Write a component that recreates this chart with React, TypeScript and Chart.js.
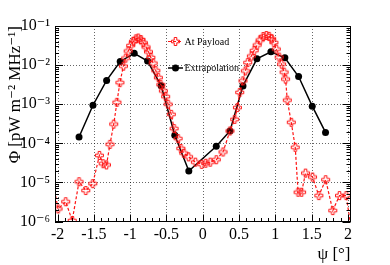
import React, { useEffect, useRef } from 'react';
import { Chart, registerables } from 'chart.js';

Chart.register(...registerables);

const seriesNames = ['At Payload', 'Extrapolation'];

const payloadPsi = [
  -2.089, -1.993, -1.887, -1.798, -1.704, -1.611, -1.515, -1.423, -1.372, -1.326,
  -1.278, -1.226, -1.182, -1.141, -1.093, -1.061, -1.027, -0.992, -0.955, -0.921,
  -0.889, -0.852, -0.818, -0.781, -0.748, -0.715, -0.683, -0.646, -0.612, -0.577,
  -0.543, -0.511, -0.477, -0.433, -0.395, -0.34, -0.302, -0.261, -0.195, -0.102,
  -0.014, 0.041, 0.103, 0.186, 0.279, 0.375, 0.44, 0.477, 0.509, 0.554,
  0.587, 0.619, 0.669, 0.708, 0.749, 0.79, 0.832, 0.876, 0.914, 0.948,
  0.98, 1.013, 1.052, 1.086, 1.12, 1.141, 1.164, 1.219, 1.274, 1.313,
  1.361, 1.416, 1.512, 1.599, 1.693, 1.791, 1.883, 1.975, 2.069,
];
const payloadFlux = [
  1.9e-5, 2.1e-6, 3.2e-6, 1.06e-6, 1.04e-5, 6.2e-6, 9.3e-6, 4.9e-5, 3.0e-5, 2.8e-5,
  9.4e-5, 3.1e-4, 1.12e-3, 3.56e-3, 9.4e-3, 1.51e-2, 2.29e-2, 3.16e-2, 4.05e-2, 4.7e-2,
  4.92e-2, 4.5e-2, 3.73e-2, 2.9e-2, 2.18e-2, 1.57e-2, 1.12e-2, 7.2e-3, 4.78e-3, 3.16e-3,
  2.19e-3, 1.56e-3, 1.0e-3, 5.5e-4, 2.38e-4, 1.32e-4, 7.4e-5, 5.6e-5, 4.5e-5, 3.3e-5,
  2.9e-5, 3.1e-5, 3.3e-5, 3.8e-5, 6.0e-5, 2.07e-4, 4.1e-4, 8.2e-4, 2.0e-3, 3.96e-3,
  7.1e-3, 1.16e-2, 1.7e-2, 2.35e-2, 3.26e-2, 4.38e-2, 5.38e-2, 5.71e-2, 5.44e-2, 4.72e-2,
  3.78e-2, 2.57e-2, 1.6e-2, 1.06e-2, 6.6e-3, 4.38e-3, 1.27e-3, 3.45e-4, 7.9e-5, 5.6e-6,
  5.6e-6, 1.73e-5, 1.37e-5, 4.6e-6, 1.17e-5, 1.9e-6, 4.6e-6, 4.6e-6, 3.3e-7,
];

const extrapPsi = [
  -1.704, -1.512, -1.324, -1.137, -0.944, -0.76, -0.573, -0.385, -0.192,
  0.186, 0.375, 0.554, 0.746, 0.939, 1.131, 1.32, 1.508, 1.691,
];
const extrapFlux = [
  1.45e-4, 9.4e-4, 4.06e-3, 1.24e-2, 2.0e-2, 1.27e-2, 2.95e-3, 1.6e-4, 1.95e-5,
  8.4e-5, 2.07e-4, 2.94e-3, 1.45e-2, 2.19e-2, 1.54e-2, 5.1e-3, 8.9e-4, 1.9e-4,
];

const xTickValues = [-2, -1.5, -1, -0.5, 0, 0.5, 1, 1.5, 2];
const xTickLabels = ['-2', '-1.5', '-1', '-0.5', '0', '0.5', '1', '1.5', '2'];
const yTickValues = [1e-6, 1e-5, 1e-4, 1e-3, 1e-2, 1e-1];
const yTickLabels = ['10\u207B\u2076', '10\u207B\u2075', '10\u207B\u2074', '10\u207B\u00B3', '10\u207B\u00B2', '10\u207B\u00B9'];

const SERIF = "'Liberation Serif', 'Times New Roman', 'DejaVu Serif', serif";
const RED = 'rgb(255,20,20)';

function makeOpenCross(): HTMLCanvasElement {
  const c = document.createElement('canvas');
  c.width = 11;
  c.height = 11;
  const g = c.getContext('2d')!;
  const cx = 5.5, cy = 5.5, h = 4, a = 1.3;
  g.strokeStyle = RED;
  g.lineWidth = 1;
  g.beginPath();
  const pts = [
    [-a, -h], [a, -h], [a, -a], [h, -a], [h, a], [a, a],
    [a, h], [-a, h], [-a, a], [-h, a], [-h, -a], [-a, -a],
  ];
  pts.forEach(([px, py], i) => {
    if (i === 0) g.moveTo(cx + px, cy + py);
    else g.lineTo(cx + px, cy + py);
  });
  g.closePath();
  g.stroke();
  return c;
}

export default function App() {
  const ref = useRef<HTMLCanvasElement>(null);

  useEffect(() => {
    if (!ref.current) return;
    const cross = makeOpenCross();

    const framePlugin = {
      id: 'rootFrame',
      beforeDatasetsDraw(chart: any) {
        const { ctx, chartArea: a, scales } = chart;
        const x = scales.x, y = scales.y;
        ctx.save();
        ctx.beginPath();
        ctx.rect(a.left, a.top, a.width, a.height);
        ctx.clip();
        ctx.strokeStyle = 'rgba(0,0,0,0.6)';
        ctx.lineWidth = 1;
        ctx.setLineDash([1, 2]);
        for (const v of xTickValues) {
          const px = Math.round(x.getPixelForValue(v)) + 0.5;
          ctx.beginPath();
          ctx.moveTo(px, a.top);
          ctx.lineTo(px, a.bottom);
          ctx.stroke();
        }
        for (const v of yTickValues) {
          const py = Math.round(y.getPixelForValue(v)) + 0.5;
          ctx.beginPath();
          ctx.moveTo(a.left, py);
          ctx.lineTo(a.right, py);
          ctx.stroke();
        }
        ctx.restore();
      },
      afterDatasetsDraw(chart: any) {
        const { ctx, chartArea: a, scales } = chart;
        const x = scales.x, y = scales.y;
        ctx.save();
        ctx.strokeStyle = '#000';
        ctx.lineWidth = 1;
        ctx.setLineDash([]);
        for (let i = -20; i <= 20; i++) {
          const v = i / 10;
          const px = Math.round(x.getPixelForValue(v)) + 0.5;
          const len = i % 5 === 0 ? 7 : 3.5;
          ctx.beginPath();
          ctx.moveTo(px, a.bottom);
          ctx.lineTo(px, a.bottom - len);
          ctx.stroke();
        }
        for (let n = -6; n <= -1; n++) {
          for (let k = 1; k <= 9; k++) {
            if (n === -1 && k > 1) break;
            const v = k * Math.pow(10, n);
            const py = Math.round(y.getPixelForValue(v)) + 0.5;
            const len = k === 1 ? 8 : 4;
            ctx.beginPath();
            ctx.moveTo(a.left, py);
            ctx.lineTo(a.left + len, py);
            ctx.moveTo(a.right, py);
            ctx.lineTo(a.right - len, py);
            ctx.stroke();
          }
        }
        ctx.strokeRect(Math.round(a.left) + 0.5, Math.round(a.top) + 0.5, Math.round(a.width) - 1, Math.round(a.height) - 1);

        // legend
        const lx0 = a.left + 113;
        const lx1 = lx0 + 15;
        const rows = [a.top + 15.5, a.top + 42];
        ctx.font = `10px ${SERIF}`;
        ctx.textBaseline = 'middle';
        ctx.textAlign = 'left';
        ctx.strokeStyle = RED;
        ctx.lineWidth = 1.2;
        ctx.setLineDash([3, 2]);
        ctx.beginPath();
        ctx.moveTo(lx0, rows[0]);
        ctx.lineTo(lx1, rows[0]);
        ctx.stroke();
        ctx.setLineDash([]);
        ctx.drawImage(cross, (lx0 + lx1) / 2 - 5.5, rows[0] - 5.5);
        ctx.fillStyle = '#000';
        ctx.fillText(seriesNames[0], lx1 + 1.5, rows[0] + 0.5);
        ctx.strokeStyle = '#000';
        ctx.lineWidth = 1.5;
        ctx.beginPath();
        ctx.moveTo(lx0, rows[1]);
        ctx.lineTo(lx1, rows[1]);
        ctx.stroke();
        ctx.beginPath();
        ctx.arc((lx0 + lx1) / 2, rows[1], 3.5, 0, Math.PI * 2);
        ctx.fill();
        ctx.fillText(seriesNames[1], lx1 + 1.5, rows[1] + 0.5);
        ctx.restore();
      },
    };

    const chart = new Chart(ref.current, {
      type: 'scatter',
      data: {
        datasets: [
          {
            label: seriesNames[0],
            data: payloadPsi.map((p, i) => ({ x: p, y: payloadFlux[i] })),
            showLine: true,
            borderColor: RED,
            borderWidth: 1.2,
            borderDash: [3, 2],
            pointStyle: cross,
            pointRadius: 4,
            pointHoverRadius: 4,
            clip: 0,
          } as any,
          {
            label: seriesNames[1],
            data: extrapPsi.map((p, i) => ({ x: p, y: extrapFlux[i] })),
            showLine: true,
            borderColor: '#000',
            borderWidth: 1.5,
            pointStyle: 'circle',
            pointRadius: 3.5,
            pointBackgroundColor: '#000',
            pointBorderColor: '#000',
            pointBorderWidth: 0,
            clip: 0,
          } as any,
        ],
      },
      options: {
        animation: false,
        responsive: true,
        maintainAspectRatio: false,
        layout: { padding: { top: 26, right: 39.5, left: 0, bottom: 0 } },
        plugins: {
          legend: { display: false },
          tooltip: { enabled: false },
        },
        scales: {
          x: {
            type: 'linear',
            min: -2.035,
            max: 2.035,
            grid: { display: false, drawTicks: false, tickLength: 0 },
            border: { display: false },
            afterBuildTicks: (scale: any) => {
              scale.ticks = xTickValues.map((v) => ({ value: v }));
            },
            afterFit: (scale: any) => {
              scale.height = 43.5;
            },
            ticks: {
              autoSkip: false,
              maxRotation: 0,
              padding: 4,
              color: '#000',
              font: { family: SERIF, size: 16 },
              callback: (_v: any, i: number) => xTickLabels[i],
            },
            title: {
              display: true,
              text: '\u03C8 [\u00B0]',
              align: 'end',
              color: '#000',
              font: { family: SERIF, size: 17 },
              padding: { top: 0, bottom: 0 },
            },
          },
          y: {
            type: 'logarithmic',
            min: 1e-6,
            max: 1e-1,
            grid: { display: false, drawTicks: false, tickLength: 0 },
            border: { display: false },
            afterBuildTicks: (scale: any) => {
              scale.ticks = yTickValues.map((v) => ({ value: v }));
            },
            afterFit: (scale: any) => {
              scale.width = 55;
            },
            ticks: {
              autoSkip: false,
              padding: 5,
              color: '#000',
              font: { family: SERIF, size: 16 },
              callback: (_v: any, i: number) => yTickLabels[i],
            },
            title: {
              display: true,
              text: '\u03A6 [pW m\u207B\u00B2 MHz\u207B\u00B9]',
              align: 'end',
              color: '#000',
              font: { family: SERIF, size: 17 },
              padding: { top: 5, bottom: 0 },
            },
          },
        },
      } as any,
      plugins: [framePlugin],
    });
    return () => chart.destroy();
  }, []);

  return (
    <div style={{ position: 'fixed', left: 0, top: 0, width: 390, height: 265, background: '#fff' }}>
      <canvas ref={ref} />
    </div>
  );
}
